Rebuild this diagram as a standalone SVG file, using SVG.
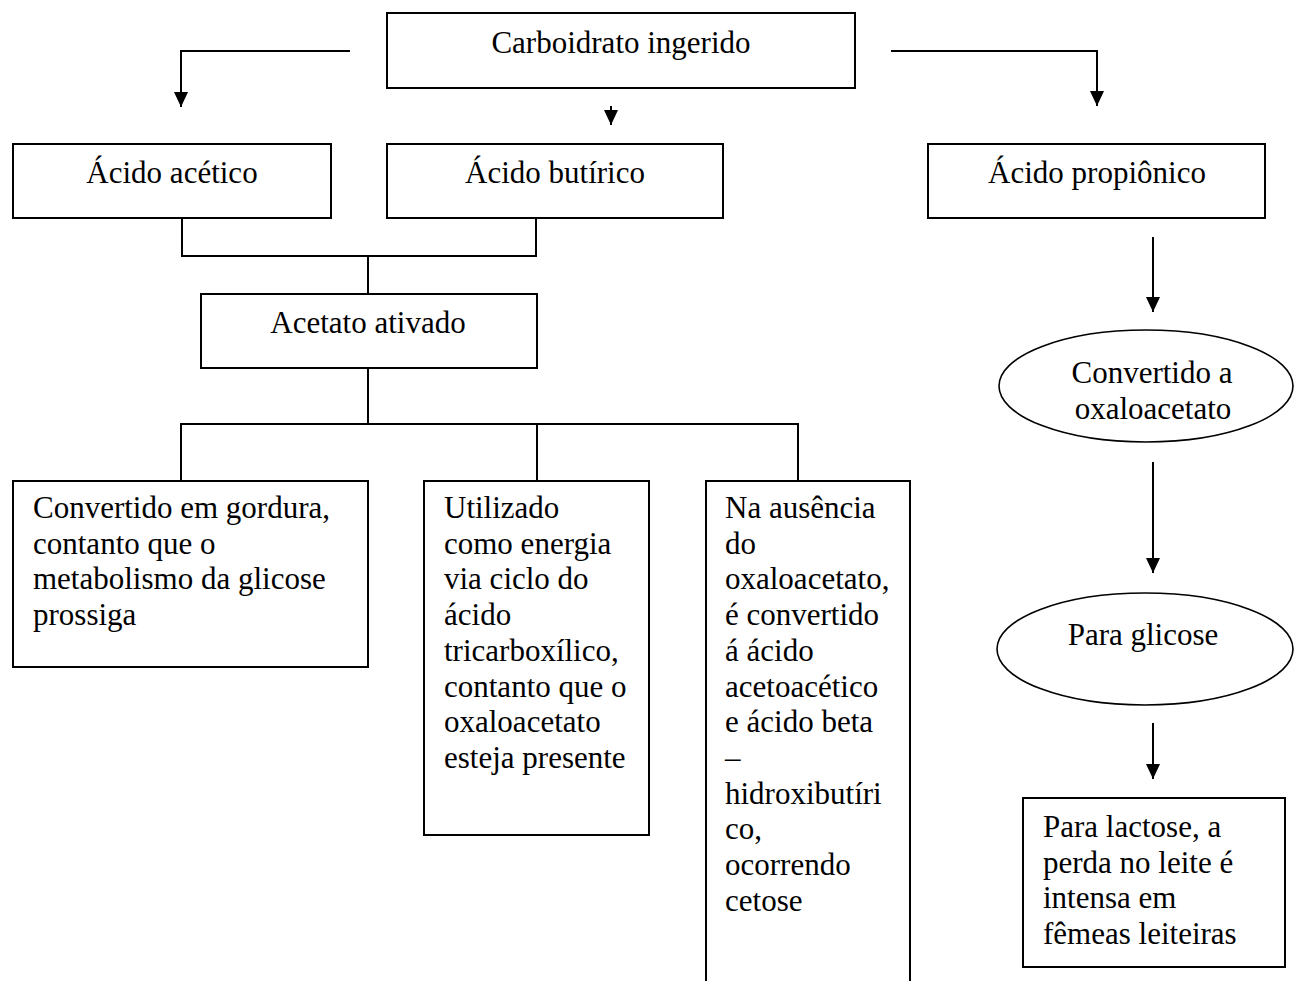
<svg xmlns="http://www.w3.org/2000/svg" width="1297" height="981" viewBox="0 0 1297 981">
<defs>
<style>
.box{fill:#fff;stroke:#000;stroke-width:2}
.ell{fill:#fff;stroke:#000;stroke-width:1.6}
.t{font-family:"Liberation Serif","Times New Roman",serif;font-size:31px;fill:#000}
.c{text-anchor:middle}
.ln{fill:none;stroke:#000;stroke-width:2}
.ar{fill:none;stroke:#000;stroke-width:2;marker-end:url(#ah)}
</style>
<marker id="ah" viewBox="0 0 15 14" refX="15" refY="7" markerWidth="15" markerHeight="14" markerUnits="userSpaceOnUse" orient="auto">
<path d="M0,0 L15,7 L0,14 z" fill="#000"/>
</marker>
</defs>
<rect width="1297" height="981" fill="#fff"/>
<g id="connectors">
<path class="ar" d="M350,51 H181 V107"/>
<path class="ar" d="M611,106 V125"/>
<path class="ar" d="M891,51 H1097 V106"/>
<path class="ln" d="M182,218 V256 H536 V218"/>
<path class="ln" d="M368,256 V294"/>
<path class="ln" d="M368,368 V424"/>
<path class="ln" d="M181,481 V424 H798 V481"/>
<path class="ln" d="M537,424 V481"/>
<path class="ar" d="M1153,237 V312"/>
<path class="ar" d="M1153,462 V573"/>
<path class="ar" d="M1153,723 V779"/>
</g>
<g id="carboidrato">
<rect class="box" x="387" y="13" width="468" height="75"/>
<text class="t c" x="621" y="53">Carboidrato ingerido</text>
</g>
<g id="acetico">
<rect class="box" x="13" y="144" width="318" height="74"/>
<text class="t c" x="172" y="183">Ácido acético</text>
</g>
<g id="butirico">
<rect class="box" x="387" y="144" width="336" height="74"/>
<text class="t c" x="555" y="183">Ácido butírico</text>
</g>
<g id="propionico">
<rect class="box" x="928" y="144" width="337" height="74"/>
<text class="t c" x="1097" y="183">Ácido propiônico</text>
</g>
<g id="acetato">
<rect class="box" x="201" y="294" width="336" height="74"/>
<text class="t c" x="368" y="333">Acetato ativado</text>
</g>
<g id="gordura">
<rect class="box" x="13" y="481" width="355" height="186"/>
<text class="t" x="33" y="518">Convertido em gordura,<tspan x="33" dy="35.7">contanto que o</tspan><tspan x="33" dy="35.7">metabolismo da glicose</tspan><tspan x="33" dy="35.7">prossiga</tspan></text>
</g>
<g id="energia">
<rect class="box" x="424" y="481" width="225" height="354"/>
<text class="t" x="444" y="518">Utilizado<tspan x="444" dy="35.7">como energia</tspan><tspan x="444" dy="35.7">via ciclo do</tspan><tspan x="444" dy="35.7">ácido</tspan><tspan x="444" dy="35.7">tricarboxílico,</tspan><tspan x="444" dy="35.7">contanto que o</tspan><tspan x="444" dy="35.7">oxaloacetato</tspan><tspan x="444" dy="35.7">esteja presente</tspan></text>
</g>
<g id="cetose">
<path class="ln" d="M706,990 V481 H910 V990"/>
<text class="t" x="725" y="518">Na ausência<tspan x="725" dy="35.7">do</tspan><tspan x="725" dy="35.7">oxaloacetato,</tspan><tspan x="725" dy="35.7">é convertido</tspan><tspan x="725" dy="35.7">á ácido</tspan><tspan x="725" dy="35.7">acetoacético</tspan><tspan x="725" dy="35.7">e ácido beta</tspan><tspan x="725" dy="35.7">–</tspan><tspan x="725" dy="35.7">hidroxibutíri</tspan><tspan x="725" dy="35.7">co,</tspan><tspan x="725" dy="35.7">ocorrendo</tspan><tspan x="725" dy="35.7">cetose</tspan></text>
</g>
<g id="oxaloacetato">
<ellipse class="ell" cx="1146" cy="386" rx="147" ry="56"/>
<text class="t c" x="1152" y="383">Convertido a<tspan x="1153" dy="36">oxaloacetato</tspan></text>
</g>
<g id="glicose">
<ellipse class="ell" cx="1145" cy="649" rx="148" ry="56"/>
<text class="t c" x="1143" y="645">Para glicose</text>
</g>
<g id="lactose">
<rect class="box" x="1023" y="798" width="262" height="169"/>
<text class="t" x="1043" y="837">Para lactose, a<tspan x="1043" dy="35.7">perda no leite é</tspan><tspan x="1043" dy="35.7">intensa em</tspan><tspan x="1043" dy="35.7">fêmeas leiteiras</tspan></text>
</g>
</svg>
